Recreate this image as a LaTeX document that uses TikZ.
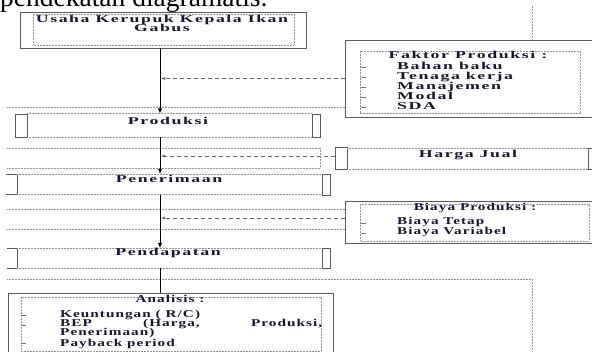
\documentclass[tikz,border=0pt]{standalone}
\usepackage{graphicx}
\usepackage{fontspec}
\setmainfont{Liberation Serif}
\newfontfamily\widefont[FakeStretch=1.7,LetterSpace=15]{Liberation Serif}
\newfontfamily\narrowfont[FakeStretch=1.45,LetterSpace=10]{Liberation Serif}
\usetikzlibrary{arrows.meta}
\definecolor{txt}{RGB}{22,22,48}
\tikzset{
  frame/.style={draw=black!65, line width=0.9pt},
  smallframe/.style={draw=black!65, line width=0.8pt},
  dots/.style={draw=black!42, line width=0.7pt, dash pattern=on 0.7pt off 0.8pt},
  flow/.style={draw=black, line width=0.9pt, -{Latex[length=5pt,width=4.5pt]}},
  plainflow/.style={draw=black, line width=0.9pt},
  feed/.style={draw=black!60, line width=0.7pt, dash pattern=on 4pt off 3pt, -{Latex[length=4pt,width=3pt]}},
  tick/.style={draw=black!55, line width=0.6pt},
  boxnode/.style={frame, inner sep=0pt, outer sep=0pt},
  wt/.style={font=\widefont\bfseries\fontsize{10.5}{12}\selectfont, text=txt, inner sep=0pt},
  nt/.style={font=\narrowfont\bfseries\fontsize{10.5}{12}\selectfont, text=txt, inner sep=0pt}
}
\begin{document}
\begin{tikzpicture}[x=1pt,y=-1pt]
\useasboundingbox (0,0) rectangle (592,352);
\clip (0,0) rectangle (592,352);
\fill[white] (0,0) rectangle (592,352);

% body text cut at the top
\node[anchor=base west, inner sep=0pt, font=\fontsize{27.5}{30}\selectfont] (intro) at (0,7) {pendekatan diagramatis.};

\coordinate (ax) at (160,0);

% ---- Usaha box
\node[boxnode, minimum width=286pt, minimum height=36pt] (usaha) at (163,30) {};
\draw[dots] (33,14) rectangle (294,45);
\node[wt, anchor=base] (usaha1) at (162,23) {\resizebox{252pt}{\height}{Usaha Kerupuk Kepala Ikan}};
\node[wt, anchor=base] (usaha2) at (162,32) {Gabus};

% ---- Faktor Produksi box
\draw[dots] (532,6) -- (532,40);
\node[boxnode, minimum width=249pt, minimum height=77pt] (faktor) at (469.5,78.5) {};
\draw[dots] (360,51) rectangle (580,113);
\node[wt, anchor=base] (fk0) at (468,59) {Faktor Produksi :};
\node[wt, anchor=base west] (fk1) at (397,70) {Bahan baku};
\node[wt, anchor=base west] (fk2) at (397,80) {Tenaga kerja};
\node[wt, anchor=base west] (fk3) at (397,90) {Manajemen};
\node[wt, anchor=base west] (fk4) at (397,100) {Modal};
\node[wt, anchor=base west] (fk5) at (397,110) {SDA};
\foreach \yy in {67,77,87,97,107} \draw[tick] (361,\yy) -- (366,\yy);

% ---- dotted band above Produksi
\draw[dots] (7,107) -- (345,107);

% ---- Produksi row
\draw[smallframe] (15,114) rectangle (27,137);
\draw[dots] (27,113.5) -- (312,113.5);
\draw[dots] (27,137) -- (312,137);
\draw[smallframe] (312,114) rectangle (320,137);
\node[wt, anchor=base] (produksi) at (168,125) {Produksi};
\coordinate (prodtop) at (160,113.5);
\coordinate (prodbot) at (160,137);

% ---- Harga band
\draw[dots] (7,148) -- (320,148) -- (320,168);
\draw[dots] (7,168) -- (320,168);
\node[boxnode, smallframe, minimum width=12pt, minimum height=22pt] (hjl) at (341,158) {};
\draw[dots] (347,148) -- (588,148);
\draw[dots] (347,169) -- (588,169);
\draw[smallframe] (588,148) rectangle (597,169);
\node[wt, anchor=base] (harga) at (468,158) {Harga Jual};

% ---- Penerimaan row
\draw[smallframe] (6,174) -- (17,174) -- (17,194.5) -- (6,194.5);
\draw[dots] (17,174) -- (322,174);
\draw[dots] (17,194.5) -- (322,194.5);
\draw[smallframe] (322,174) rectangle (330,195);
\node[wt, anchor=base] (penerimaan) at (169,183) {Penerimaan};
\coordinate (pentop) at (160,174);
\coordinate (penbot) at (160,195);

% ---- Biaya band
\draw[dots] (7,209) -- (345,209);
\draw[dots] (7,229) -- (345,229);
\node[boxnode, minimum width=249pt, minimum height=42pt] (biaya) at (469.5,222) {};
\draw[dots] (360,204) rectangle (589,241);
\node[nt, anchor=base] (bp0) at (475,211) {Biaya Produksi :};
\node[nt, anchor=base west] (bp1) at (397,225) {Biaya Tetap};
\node[nt, anchor=base west] (bp2) at (397,235) {Biaya Variabel};
\foreach \yy in {223,233} \draw[tick] (361,\yy) -- (366,\yy);

% ---- Pendapatan row
\draw[smallframe] (7,248) -- (17,248) -- (17,268) -- (7,268);
\draw[dots] (17,248) -- (322,248);
\draw[dots] (17,268) -- (322,268);
\draw[smallframe] (322,248) rectangle (330,268);
\node[wt, anchor=base] (pendapatan) at (168,256) {Pendapatan};
\coordinate (pdtop) at (160,248);
\coordinate (pdbot) at (160,268);

% ---- Analisis
\draw[dots] (7,279) -- (532,279) -- (532,355);
\node[boxnode, minimum width=325pt, minimum height=70pt] (analisis) at (170.5,328) {};
\draw[dots] (21,297) rectangle (321,351);
\node[nt, anchor=base] (an0) at (170,303) {Analisis :};
\node[nt, anchor=base west] (an1) at (60,318) {Keuntungan ( R/C)};
\node[nt, anchor=base west] (an2) at (60,327) {\hbox to 262pt{BEP\hfill(Harga,\hfill Produksi,}};
\node[nt, anchor=base west] (an3) at (60,336) {Penerimaan)};
\node[nt, anchor=base west] (an4) at (60,347) {Payback period};
\foreach \yy in {315,325,343} \draw[tick] (22,\yy) -- (26,\yy);

% ---- connectors
\draw[flow] (usaha.south -| ax) -- (prodtop);
\draw[flow] (prodbot) -- (pentop);
\draw[flow] (penbot) -- (pdtop);
\draw[plainflow] (pdbot) -- (analisis.north -| ax);

\coordinate (fa) at (faktor.west);
\draw[feed, shorten >=1pt] (fa) -- (fa -| ax);
\coordinate (fh) at ([yshift=2pt]hjl.west);
\draw[feed, shorten >=1pt] (fh) -- (fh -| ax);
\coordinate (fb) at ([yshift=4pt]biaya.west);
\draw[feed, shorten >=1pt] (fb) -- (fb -| ax);
\end{tikzpicture}
\end{document}
